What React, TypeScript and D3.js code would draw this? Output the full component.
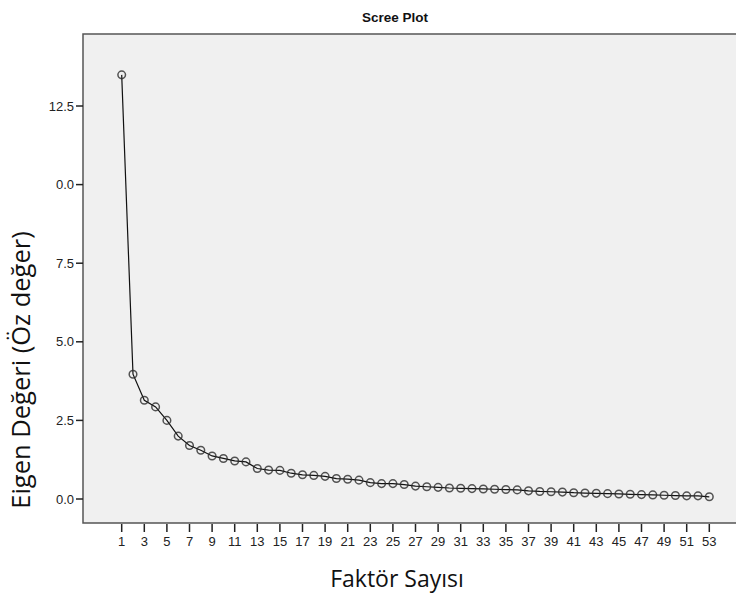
import React from 'react';
import * as d3 from 'd3';

// eigenvalues, one per factor
const factors = d3.range(1, 54);
const eigenvalues = [
  13.49, 3.97, 3.14, 2.93, 2.5, 2.0, 1.7, 1.55, 1.37, 1.29,
  1.21, 1.18, 0.97, 0.92, 0.91, 0.82, 0.77, 0.75, 0.72, 0.65,
  0.63, 0.6, 0.52, 0.49, 0.49, 0.46, 0.41, 0.39, 0.37, 0.35,
  0.34, 0.33, 0.32, 0.31, 0.3, 0.29, 0.26, 0.24, 0.23, 0.22,
  0.2, 0.19, 0.18, 0.17, 0.16, 0.15, 0.14, 0.13, 0.12, 0.11,
  0.1, 0.1, 0.07,
];
const yTicks = [0, 2.5, 5, 7.5, 10, 12.5];
// the 10.0 label is clipped to "0.0" in the original
const yTickLabels = ['0.0', '2.5', '5.0', '7.5', '0.0', '12.5'];
const xTicks = factors.filter(f => f % 2 === 1);

const W = 736;
const H = 597;
const frame = { left: 83, top: 34, right: 760, bottom: 523 };

const App: React.FC = () => {
  const x = d3.scaleLinear().domain([1, 53]).range([121.7, 709.3]);
  const y = d3.scaleLinear().domain([0, 12.5]).range([499, 106]);

  const line = d3.line<number>()
    .x((_, i) => x(factors[i]))
    .y(d => y(d));

  const tickFont = '"Liberation Sans", Arial, sans-serif';
  const titleFont = '"Open Sans", "Noto Sans", sans-serif';

  return (
    <svg width={W} height={H} style={{ position: 'absolute', left: 0, top: 0, background: '#fff' }}>
      <text x={395} y={22} textAnchor="middle" fontFamily={tickFont} fontWeight="bold" fontSize={13.5} fill="#111">
        Scree Plot
      </text>

      <rect
        x={frame.left}
        y={frame.top}
        width={frame.right - frame.left}
        height={frame.bottom - frame.top}
        fill="#f0f0f0"
        stroke="#555"
        strokeWidth={1.5}
      />

      {/* y axis */}
      <g fontFamily={tickFont} fontSize={13} fill="#222">
        {yTicks.map((t, i) => (
          <g key={i} transform={`translate(0,${y(t)})`}>
            <line x1={76} x2={frame.left} stroke="#222" strokeWidth={1.5} />
            <text x={74} dy="0.35em" textAnchor="end">{yTickLabels[i]}</text>
          </g>
        ))}
      </g>

      {/* x axis */}
      <g fontFamily={tickFont} fontSize={13} fill="#222">
        {xTicks.map(t => (
          <g key={t} transform={`translate(${x(t)},0)`}>
            <line y1={frame.bottom + 1} y2={frame.bottom + 9} stroke="#222" strokeWidth={1.5} />
            <text y={546} textAnchor="middle">{t}</text>
          </g>
        ))}
      </g>

      <path d={line(eigenvalues) ?? ''} fill="none" stroke="#111" strokeWidth={1.2} />
      {eigenvalues.map((v, i) => (
        <circle
          key={i}
          cx={x(factors[i])}
          cy={y(v)}
          r={3.8}
          fill="none"
          stroke="#2a2a2a"
          strokeOpacity={0.8}
          strokeWidth={1.5}
        />
      ))}

      <text
        transform="translate(30,370) rotate(-90)"
        textAnchor="middle"
        fontFamily={titleFont}
        fontSize={25.5}
        fill="#111"
      >
        Eigen Değeri (Öz değer)
      </text>
      <text x={397} y={587} textAnchor="middle" fontFamily={titleFont} fontSize={23} fill="#111">
        Faktör Sayısı
      </text>
    </svg>
  );
};

export default App;
